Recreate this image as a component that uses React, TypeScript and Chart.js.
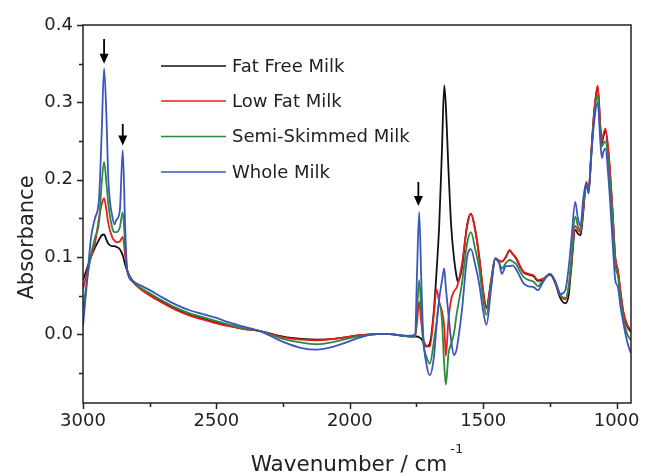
import React, { useEffect, useRef } from 'react';
import { Chart, registerables } from 'chart.js';

Chart.register(...registerables);

// Wavenumber grid (cm^-1), shared by all four spectra
const wavenumbers = [
  3000, 2985, 2970, 2955, 2940, 2930, 2921, 2912, 2905, 2890,
  2882, 2875, 2862, 2851, 2842, 2835, 2820, 2800, 2750, 2700,
  2650, 2600, 2550, 2500, 2450, 2400, 2336, 2250, 2180, 2124,
  2060, 2000, 1950, 1900, 1850, 1800, 1770, 1755, 1748, 1740,
  1732, 1725, 1712, 1700, 1685, 1675, 1665, 1655, 1646, 1640,
  1630, 1620, 1610, 1600, 1595, 1580, 1560, 1546, 1530, 1515,
  1500, 1488, 1470, 1455, 1440, 1430, 1415, 1401, 1390, 1375,
  1360, 1349, 1330, 1311, 1295, 1275, 1249, 1230, 1210, 1192,
  1180, 1170, 1155, 1145, 1135, 1125, 1114, 1105, 1095, 1085,
  1071, 1060, 1055, 1050, 1042, 1030, 1015, 1005, 995, 985,
  975, 960, 946,
];

const fatFreeMilk = [
  0.070, 0.085, 0.100, 0.112, 0.122, 0.128, 0.129, 0.122, 0.117, 0.114,
  0.114, 0.113, 0.110, 0.102, 0.090, 0.083, 0.072, 0.064, 0.051, 0.041,
  0.032, 0.025, 0.020, 0.015, 0.011, 0.007, 0.004, -0.003, -0.006, -0.007,
  -0.006, -0.003, -0.001, 0.000, 0.000, -0.002, -0.003, -0.003, -0.003, -0.004,
  -0.006, -0.010, -0.016, -0.012, 0.030, 0.080, 0.140, 0.234, 0.322, 0.295,
  0.212, 0.140, 0.100, 0.075, 0.068, 0.085, 0.142, 0.156, 0.135, 0.100,
  0.055, 0.035, 0.070, 0.098, 0.095, 0.094, 0.100, 0.108, 0.104, 0.097,
  0.086, 0.080, 0.077, 0.075, 0.069, 0.071, 0.077, 0.066, 0.046, 0.040,
  0.050, 0.085, 0.135, 0.130, 0.128, 0.158, 0.195, 0.185, 0.233, 0.283,
  0.320, 0.262, 0.247, 0.255, 0.263, 0.232, 0.157, 0.098, 0.081, 0.053,
  0.028, 0.010, 0.003,
];

const lowFatMilk = [
  0.058, 0.080, 0.100, 0.118, 0.150, 0.168, 0.176, 0.160, 0.143, 0.125,
  0.121, 0.119, 0.120, 0.126, 0.102, 0.083, 0.071, 0.063, 0.050, 0.040,
  0.031, 0.024, 0.019, 0.014, 0.010, 0.007, 0.004, -0.004, -0.007, -0.008,
  -0.006, -0.003, -0.001, 0.000, 0.000, -0.002, -0.003, -0.002, 0.015, 0.042,
  0.015, -0.005, -0.015, -0.016, 0.025, 0.058, 0.042, 0.030, 0.010, -0.028,
  0.020, 0.045, 0.055, 0.060, 0.065, 0.090, 0.140, 0.156, 0.135, 0.100,
  0.055, 0.033, 0.070, 0.098, 0.095, 0.094, 0.100, 0.109, 0.104, 0.098,
  0.087, 0.081, 0.078, 0.076, 0.070, 0.072, 0.078, 0.068, 0.050, 0.045,
  0.060, 0.090, 0.140, 0.135, 0.132, 0.160, 0.197, 0.187, 0.235, 0.285,
  0.322, 0.265, 0.250, 0.258, 0.266, 0.235, 0.160, 0.100, 0.083, 0.055,
  0.030, 0.012, 0.005,
];

const semiSkimmedMilk = [
  0.032, 0.070, 0.103, 0.125, 0.145, 0.195, 0.223, 0.195, 0.168, 0.137,
  0.132, 0.132, 0.138, 0.158, 0.115, 0.085, 0.072, 0.064, 0.053, 0.043,
  0.034, 0.027, 0.022, 0.017, 0.012, 0.008, 0.004, -0.006, -0.011, -0.013,
  -0.010, -0.005, -0.002, 0.000, 0.000, -0.002, -0.003, -0.002, 0.030, 0.070,
  0.030, -0.010, -0.030, -0.038, -0.010, 0.015, 0.040, 0.020, -0.040, -0.065,
  -0.025, -0.012, 0.000, 0.025, 0.035, 0.065, 0.118, 0.132, 0.110, 0.085,
  0.045, 0.025, 0.065, 0.097, 0.092, 0.085, 0.092, 0.096, 0.094, 0.090,
  0.080, 0.074, 0.070, 0.068, 0.062, 0.070, 0.078, 0.068, 0.050, 0.047,
  0.060, 0.095, 0.152, 0.140, 0.135, 0.165, 0.195, 0.183, 0.232, 0.278,
  0.309, 0.255, 0.243, 0.246, 0.249, 0.220, 0.150, 0.090, 0.075, 0.045,
  0.022, 0.000, -0.008,
];

const wholeMilk = [
  0.010, 0.068, 0.125, 0.150, 0.175, 0.260, 0.344, 0.280, 0.200, 0.152,
  0.142, 0.148, 0.160, 0.238, 0.140, 0.085, 0.070, 0.066, 0.057, 0.047,
  0.038, 0.031, 0.026, 0.021, 0.015, 0.010, 0.004, -0.010, -0.018, -0.020,
  -0.016, -0.009, -0.003, 0.000, 0.000, -0.002, -0.002, 0.000, 0.080, 0.158,
  0.070, 0.000, -0.040, -0.053, -0.030, 0.010, 0.045, 0.068, 0.085, 0.060,
  0.025, -0.008, -0.027, -0.020, -0.010, 0.030, 0.100, 0.110, 0.090, 0.065,
  0.030, 0.012, 0.060, 0.097, 0.092, 0.078, 0.088, 0.088, 0.089, 0.083,
  0.073, 0.066, 0.062, 0.061, 0.057, 0.068, 0.078, 0.068, 0.052, 0.057,
  0.085, 0.120, 0.171, 0.150, 0.140, 0.175, 0.195, 0.182, 0.230, 0.272,
  0.300, 0.245, 0.228, 0.235, 0.240, 0.200, 0.120, 0.070, 0.061, 0.035,
  0.015, -0.010, -0.025,
];

const seriesLabels = ['Fat Free Milk', 'Low Fat Milk', 'Semi-Skimmed Milk', 'Whole Milk'];
const seriesColors = ['#111111', '#ec1c1c', '#2b8a3e', '#3b55bd'];
const seriesValues = [fatFreeMilk, lowFatMilk, semiSkimmedMilk, wholeMilk];

const xTicks = [3000, 2750, 2500, 2250, 2000, 1750, 1500, 1250, 1000];
const yTicks = [-0.05, 0, 0.05, 0.1, 0.15, 0.2, 0.25, 0.3, 0.35, 0.4];

// Arrows marking the fat bands
const arrowWn = [2921, 2851, 1743];
const arrowTip = [0.35, 0.244, 0.166];
const arrowTop = [0.382, 0.272, 0.197];

const FONT = '"DejaVu Sans", "Noto Sans", sans-serif';
const INK = '#222222';

const isMajorY = (v: number) => Math.abs(v * 10 - Math.round(v * 10)) < 1e-6;

const decorPlugin = {
  id: 'decor',
  afterDraw(chart: any) {
    const { ctx, chartArea: a, scales } = chart;
    const xs = scales.x;
    const ys = scales.y;
    ctx.save();

    // frame
    ctx.strokeStyle = INK;
    ctx.lineWidth = 1.5;
    ctx.strokeRect(a.left, a.top, a.right - a.left, a.bottom - a.top);

    // tick marks (outward)
    ctx.beginPath();
    xTicks.forEach((v) => {
      const px = Math.round(xs.getPixelForValue(v)) + 0.5;
      const len = v % 500 === 0 ? 6 : 4;
      ctx.moveTo(px, a.bottom);
      ctx.lineTo(px, a.bottom + len);
    });
    yTicks.forEach((v) => {
      const py = Math.round(ys.getPixelForValue(v)) + 0.5;
      const len = isMajorY(v) ? 6 : 4;
      ctx.moveTo(a.left, py);
      ctx.lineTo(a.left - len, py);
    });
    ctx.stroke();

    // arrows
    ctx.fillStyle = '#000';
    ctx.strokeStyle = '#000';
    arrowWn.forEach((w, i) => {
      const px = xs.getPixelForValue(w);
      const top = ys.getPixelForValue(arrowTop[i]);
      const tip = ys.getPixelForValue(arrowTip[i]);
      ctx.lineWidth = 1.8;
      ctx.beginPath();
      ctx.moveTo(px, top);
      ctx.lineTo(px, tip - 8);
      ctx.stroke();
      ctx.beginPath();
      ctx.moveTo(px - 4.5, tip - 10);
      ctx.lineTo(px + 4.5, tip - 10);
      ctx.lineTo(px, tip);
      ctx.closePath();
      ctx.fill();
    });

    // legend
    const legX0 = 161;
    const legX1 = 226;
    const legY = [66, 101, 136.5, 172];
    ctx.font = `18px ${FONT}`;
    ctx.textBaseline = 'middle';
    ctx.textAlign = 'left';
    seriesLabels.forEach((lab, i) => {
      ctx.strokeStyle = seriesColors[i];
      ctx.lineWidth = 1.7;
      ctx.beginPath();
      ctx.moveTo(legX0, legY[i]);
      ctx.lineTo(legX1, legY[i]);
      ctx.stroke();
      ctx.fillStyle = INK;
      ctx.fillText(lab, 232, legY[i] + 1);
    });

    // x axis title with superscript
    const main = 'Wavenumber / cm';
    const sup = '-1';
    ctx.font = `21.5px ${FONT}`;
    const wMain = ctx.measureText(main).width;
    ctx.font = `13px ${FONT}`;
    const wSup = ctx.measureText(sup).width;
    const total = wMain + 3 + wSup;
    const cx = (a.left + a.right) / 2;
    const startX = cx - total / 2;
    ctx.fillStyle = INK;
    ctx.textBaseline = 'alphabetic';
    ctx.font = `21.5px ${FONT}`;
    ctx.fillText(main, startX, 471);
    ctx.font = `13px ${FONT}`;
    ctx.fillText(sup, startX + wMain + 3, 453);

    // y axis title
    ctx.save();
    ctx.translate(33, 237.5);
    ctx.rotate(-Math.PI / 2);
    ctx.font = `21px ${FONT}`;
    ctx.textAlign = 'center';
    ctx.fillText('Absorbance', 0, 0);
    ctx.restore();

    ctx.restore();
  },
};

export default function App() {
  const ref = useRef<HTMLCanvasElement>(null);

  useEffect(() => {
    if (!ref.current) return;
    const order = [4, 3, 2, 1];
    const chart = new Chart(ref.current, {
      type: 'line',
      data: {
        datasets: seriesLabels.map((label, i) => ({
          label,
          data: wavenumbers.map((w, j) => ({ x: w, y: seriesValues[i][j] })),
          borderColor: seriesColors[i],
          backgroundColor: seriesColors[i],
          borderWidth: 1.8,
          pointRadius: 0,
          cubicInterpolationMode: 'monotone' as const,
          fill: false,
          order: order[i],
        })),
      },
      options: {
        responsive: false,
        animation: false,
        events: [],
        layout: { padding: { left: 0, right: 14, top: 25, bottom: 0 } },
        plugins: {
          legend: { display: false },
          tooltip: { enabled: false },
          title: { display: false },
        },
        scales: {
          x: {
            type: 'linear',
            reverse: true,
            min: 946,
            max: 3000,
            grid: { display: false, drawTicks: false },
            border: { display: false },
            afterBuildTicks: (s: any) => {
              s.ticks = xTicks.map((v) => ({ value: v }));
            },
            afterFit: (s: any) => {
              s.height = 73;
              s.paddingLeft = 0;
              s.paddingRight = 0;
            },
            ticks: {
              autoSkip: false,
              maxRotation: 0,
              padding: 8,
              color: INK,
              font: { family: FONT, size: 18 },
              callback: (v: any) => (Number(v) % 500 === 0 ? String(v) : ''),
            },
          },
          y: {
            type: 'linear',
            min: -0.089,
            max: 0.4,
            grid: { display: false, drawTicks: false },
            border: { display: false },
            afterBuildTicks: (s: any) => {
              s.ticks = yTicks.map((v) => ({ value: v }));
            },
            afterFit: (s: any) => {
              s.width = 83;
              s.paddingTop = 0;
              s.paddingBottom = 0;
            },
            ticks: {
              autoSkip: false,
              padding: 10,
              color: INK,
              font: { family: FONT, size: 18 },
              callback: (v: any) => (isMajorY(Number(v)) ? Number(v).toFixed(1) : ''),
            },
          },
        },
      },
      plugins: [decorPlugin],
    });
    return () => chart.destroy();
  }, []);

  return (
    <div style={{ position: 'absolute', left: 0, top: 0, width: 645, height: 476, background: '#fff' }}>
      <canvas ref={ref} width={645} height={476} style={{ width: 645, height: 476, display: 'block' }} />
    </div>
  );
}
